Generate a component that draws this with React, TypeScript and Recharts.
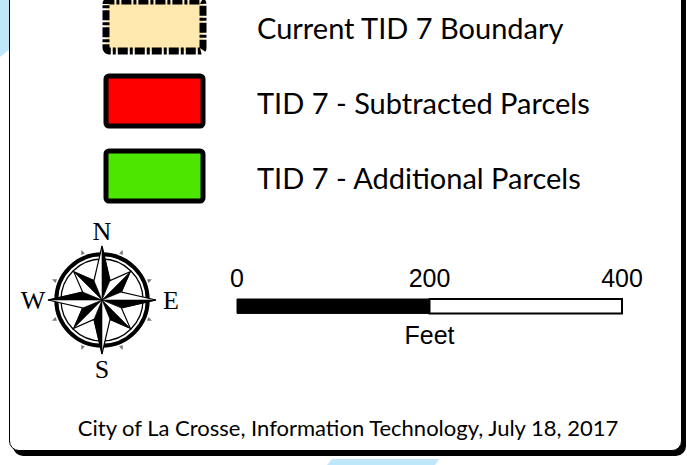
import {
  BarChart,
  Bar,
  XAxis,
  YAxis,
  Cell,
  RadarChart,
  Radar,
  PolarGrid,
  PolarAngleAxis,
  PolarRadiusAxis,
} from 'recharts'

// legend swatches
const LEGEND_LABELS = ['Current TID 7 Boundary', 'TID 7 - Subtracted Parcels', 'TID 7 - Additional Parcels']
const LEGEND_FILLS = ['#ffe9af', '#ff0000', '#4ce600']
const LEGEND_DASHES = ['10 2 3 2', '', '']
const LEGEND_VALUES = [1, 1, 1]

// scale bar (feet)
const SCALE_TICKS = [0, 200, 400]
const SCALE_FILLED = [200]
const SCALE_EMPTY = [200]
const SCALE_UNIT = 'Feet'

// compass rose, 16 points clockwise from north
const COMPASS_POINTS = ['N', 'NNE', 'NE', 'ENE', 'E', 'ESE', 'SE', 'SSE', 'S', 'SSW', 'SW', 'WSW', 'W', 'WNW', 'NW', 'NNW']
const STAR_OUTLINE = [54, 21, 40, 21, 54, 21, 40, 21, 54, 21, 40, 21, 54, 21, 40, 21]
const CARDINAL_SHADE = [54, 21, 0, 0, 54, 21, 0, 0, 54, 21, 0, 0, 54, 21, 0, 0]
const INTERCARDINAL_SHADE = [0, 0, 40, 21, 0, 0, 40, 21, 0, 0, 40, 21, 0, 0, 40, 21]
const RING_MARKS = [0, 51, 0, 51, 0, 51, 0, 51, 0, 51, 0, 51, 0, 51, 0, 51]

const FOOTER = 'City of La Crosse, Information Technology, July 18, 2017'

const legendData = LEGEND_LABELS.map((name, i) => ({
  name,
  value: LEGEND_VALUES[i],
  fill: LEGEND_FILLS[i],
  dash: LEGEND_DASHES[i],
}))

const scaleData = [{ name: 'scale', filled: SCALE_FILLED[0], empty: SCALE_EMPTY[0] }]

const compassData = COMPASS_POINTS.map((point, i) => ({
  point,
  outline: STAR_OUTLINE[i],
  cardinal: CARDINAL_SHADE[i],
  intercardinal: INTERCARDINAL_SHADE[i],
  marks: RING_MARKS[i],
}))

const ROSE_SIZE = 180
const ROSE_C = ROSE_SIZE / 2

function CompassTick(props: any) {
  const { x, y, payload } = props
  if (String(payload.value).length !== 1) return <g />
  return (
    <text
      x={x}
      y={y}
      textAnchor="middle"
      dominantBaseline="central"
      fontFamily="'Liberation Serif', serif"
      fontSize={26}
      fill="#000"
    >
      {payload.value}
    </text>
  )
}

function RingMark(props: any) {
  const { cx, cy, value, index } = props
  if (!value) return <g key={`m-${index}`} />
  const a = Math.atan2(cy - ROSE_C, cx - ROSE_C)
  const tip = [cx + Math.cos(a) * 3, cy + Math.sin(a) * 3]
  const l = [cx + Math.cos(a + 2.2) * 2.5, cy + Math.sin(a + 2.2) * 2.5]
  const r = [cx + Math.cos(a - 2.2) * 2.5, cy + Math.sin(a - 2.2) * 2.5]
  return (
    <polygon
      key={`m-${index}`}
      points={`${tip.join(',')} ${l.join(',')} ${r.join(',')}`}
      fill="#777"
    />
  )
}

export default function App() {
  return (
    <div
      style={{
        position: 'absolute',
        left: 0,
        top: 0,
        width: 687,
        height: 465,
        overflow: 'hidden',
        background: '#fff',
      }}
    >
      {/* map background peeking out */}
      <div
        style={{
          position: 'absolute',
          left: 0,
          top: 0,
          width: 10,
          height: 58,
          background: '#bfe7fb',
          clipPath: 'polygon(0 0, 100% 0, 100% 49px, 0 57px)',
        }}
      />
      <div
        style={{
          position: 'absolute',
          left: 320,
          top: 450,
          width: 130,
          height: 15,
          background: '#bfe7fb',
          clipPath: 'polygon(12px 9px, 119px 9px, 115px 15px, 7px 15px)',
        }}
      />

      {/* legend frame */}
      <div
        style={{
          position: 'absolute',
          left: 9,
          top: -20,
          width: 673,
          height: 471,
          boxSizing: 'border-box',
          border: '1.5px solid #000',
          borderRadius: 10,
          boxShadow: '4px 5px 0 #000',
          background: '#fff',
        }}
      />

      <div style={{ position: 'absolute', left: 0, top: -12 }}>
        <BarChart
          width={687}
          height={225}
          data={legendData}
          layout="vertical"
          margin={{ top: 0, right: 0, bottom: 0, left: 106 }}
        >
          <XAxis type="number" domain={[0, 1]} hide />
          <YAxis
            type="category"
            dataKey="name"
            orientation="right"
            width={484}
            axisLine={false}
            tickLine={false}
            tickSize={0}
            tickMargin={54}
            tick={{ fontFamily: 'Lato, sans-serif', fontSize: 29, fill: '#000', dy: 3 }}
          />
          <Bar dataKey="value" barSize={50} radius={3} isAnimationActive={false}>
            {legendData.map((d, i) => (
              <Cell
                key={`sw-${i}`}
                fill={d.fill}
                stroke="#000"
                strokeWidth={d.dash ? 7 : 5}
                strokeDasharray={d.dash || undefined}
              />
            ))}
          </Bar>
        </BarChart>
      </div>

      <div style={{ position: 'absolute', left: 12, top: 210 }}>
        <RadarChart
          width={ROSE_SIZE}
          height={ROSE_SIZE}
          data={compassData}
          cx={ROSE_C}
          cy={ROSE_C}
          outerRadius={54}
          margin={{ top: 0, right: 0, bottom: 0, left: 0 }}
        >
          <PolarGrid gridType="circle" radialLines={false} polarRadius={[45.7]} stroke="#000" strokeWidth={4} />
          <PolarGrid gridType="circle" radialLines={false} polarRadius={[41]} stroke="#000" strokeWidth={1.3} />
          <PolarAngleAxis
            dataKey="point"
            axisLine={false}
            tickLine={false}
            tickSize={15}
            tick={CompassTick}
          />
          <PolarRadiusAxis domain={[0, 54]} tick={false} axisLine={false} />
          <Radar dataKey="marks" stroke="none" fill="none" dot={RingMark} isAnimationActive={false} />
          <Radar dataKey="outline" stroke="#000" strokeWidth={1.2} fill="#fff" fillOpacity={1} isAnimationActive={false} />
          <Radar dataKey="intercardinal" stroke="#000" strokeWidth={0.6} fill="#000" fillOpacity={1} isAnimationActive={false} />
          <Radar dataKey="cardinal" stroke="#000" strokeWidth={0.6} fill="#000" fillOpacity={1} isAnimationActive={false} />
        </RadarChart>
      </div>

      <div style={{ position: 'absolute', left: 200, top: 250 }}>
        <BarChart
          width={470}
          height={104}
          data={scaleData}
          layout="vertical"
          margin={{ top: 0, right: 48, bottom: 10, left: 37 }}
        >
          <XAxis
            type="number"
            orientation="top"
            domain={[0, 400]}
            ticks={SCALE_TICKS}
            height={48}
            axisLine={false}
            tickLine={false}
            tickSize={0}
            tickMargin={11}
            interval={0}
            tick={{ fontFamily: "'Liberation Sans', Arial, sans-serif", fontSize: 25, fill: '#000' }}
          />
          <XAxis
            xAxisId="unit"
            type="number"
            orientation="bottom"
            domain={[0, 400]}
            height={30}
            axisLine={false}
            tickLine={false}
            tick={false}
            label={{
              value: SCALE_UNIT,
              position: 'insideBottom',
              offset: 0,
              fontFamily: "'Liberation Sans', Arial, sans-serif",
              fontSize: 25,
              fill: '#000',
            }}
          />
          <YAxis type="category" dataKey="name" hide />
          <Bar dataKey="filled" stackId="s" barSize={16} fill="#000" stroke="#000" strokeWidth={1} isAnimationActive={false} />
          <Bar dataKey="empty" stackId="s" barSize={16} fill="#fff" stroke="#000" strokeWidth={2} isAnimationActive={false} />
        </BarChart>
      </div>

      <div
        style={{
          position: 'absolute',
          left: 0,
          top: 415,
          width: 696,
          textAlign: 'center',
          fontFamily: 'Lato, sans-serif',
          fontSize: 22,
          lineHeight: '26px',
          color: '#000',
        }}
      >
        {FOOTER}
      </div>
    </div>
  )
}
